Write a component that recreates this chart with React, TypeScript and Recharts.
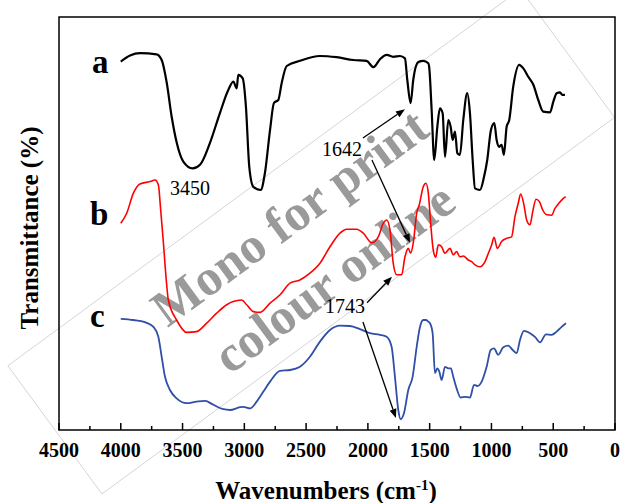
import React from "react";
import {
  LineChart,
  Line,
  XAxis,
  YAxis,
  ReferenceArea,
  ReferenceLine,
  ReferenceDot,
} from "recharts";

// spectrum a (black)
const waveA = [4000, 3925, 3845, 3710, 3669, 3628, 3588, 3547, 3494, 3418, 3359, 3278, 3197, 3130, 3089, 3062, 3049, 3013, 2987, 2960, 2927, 2868, 2833, 2792, 2760, 2725, 2698, 2657, 2550, 2388, 2253, 2118, 2010, 1956, 1902, 1848, 1795, 1740, 1700, 1681, 1654, 1633, 1592, 1552, 1511, 1504, 1484, 1463, 1438, 1417, 1395, 1376, 1349, 1330, 1314, 1295, 1276, 1255, 1228, 1196, 1174, 1152, 1133, 1093, 1060, 1034, 1004, 977, 958, 937, 918, 899, 877, 856, 824, 775, 742, 702, 661, 621, 581, 526, 499, 472, 445, 427, 405];
const transA = [92.1, 93.6, 94.2, 93.9, 92.5, 86.8, 78.3, 71.8, 67.1, 65.4, 66.3, 71.8, 79.3, 85, 87.1, 85.4, 88.8, 87.9, 80.8, 65.8, 60.8, 60, 64.3, 75, 81.8, 82.5, 86.7, 91, 92.3, 93.5, 93.2, 92.5, 92.3, 90.7, 92.7, 93.8, 93.3, 93.5, 92.9, 87.5, 81.7, 87.5, 92, 92.3, 91.7, 90.8, 80, 67.5, 75.8, 80.4, 79.2, 68.3, 77.5, 75.8, 72.5, 74.6, 69.2, 68.8, 77.5, 84.2, 79.2, 67.5, 60.4, 60, 63.3, 67.5, 75, 76.7, 72.5, 70.8, 71.3, 68.8, 75.8, 77.5, 85.8, 91.3, 90.4, 88.3, 86.3, 82.5, 79.6, 79.4, 82.1, 84.2, 84.4, 83.8, 83.8];

// spectrum b (red)
const waveB = [4000, 3952, 3898, 3845, 3764, 3723, 3696, 3677, 3655, 3634, 3615, 3548, 3467, 3386, 3305, 3224, 3143, 3090, 3021, 2981, 2927, 2873, 2792, 2711, 2630, 2550, 2469, 2388, 2307, 2226, 2172, 2091, 2037, 1969, 1916, 1875, 1848, 1821, 1795, 1767, 1727, 1700, 1673, 1654, 1633, 1605, 1584, 1552, 1530, 1511, 1492, 1471, 1451, 1430, 1403, 1376, 1336, 1309, 1282, 1255, 1228, 1188, 1160, 1133, 1093, 1052, 1025, 998, 979, 952, 918, 877, 837, 810, 783, 764, 737, 715, 688, 666, 639, 612, 585, 552, 513, 486, 459, 418, 399];
const transB = [51.7, 54.2, 59.2, 61.5, 62.1, 62.5, 61.3, 55, 46.8, 38.3, 32.5, 27.5, 24.4, 24.6, 26.7, 29.2, 31.3, 32.1, 32.5, 31.3, 29.6, 29.4, 31.7, 33.8, 36.7, 37.5, 39.2, 41.7, 45.8, 49.2, 50.2, 50.2, 49.2, 46.8, 48.3, 51.7, 52.5, 50, 41.7, 38.8, 38.8, 43.3, 45.4, 44.2, 46.7, 54.2, 56.3, 60.8, 61.7, 59.2, 51.7, 45, 43.2, 46.3, 45.8, 44.2, 45.4, 43.8, 44.6, 43.3, 43.5, 42.5, 42.1, 41.3, 40.8, 42.1, 44.2, 46.3, 48.2, 45.4, 47.1, 47.9, 48.3, 53.3, 56.7, 59, 56.3, 52.5, 51.3, 54.6, 57.7, 57.1, 55, 53.8, 53.7, 55.4, 56.5, 57.9, 58.3];

// spectrum c (blue)
const waveC = [4000, 3898, 3790, 3736, 3696, 3669, 3642, 3602, 3548, 3467, 3386, 3318, 3251, 3170, 3116, 3035, 3008, 2954, 2900, 2846, 2792, 2711, 2630, 2550, 2469, 2388, 2307, 2226, 2145, 2064, 1983, 1902, 1848, 1808, 1781, 1754, 1735, 1708, 1673, 1638, 1605, 1578, 1552, 1530, 1511, 1497, 1476, 1457, 1438, 1422, 1403, 1376, 1349, 1328, 1309, 1282, 1249, 1214, 1174, 1141, 1114, 1079, 1039, 1006, 979, 945, 904, 864, 828, 796, 769, 737, 688, 648, 607, 559, 513, 472, 432, 397];
const transC = [27.8, 27.5, 26.8, 25.8, 23.3, 18.3, 13.3, 10, 7.9, 6.7, 7.1, 7.3, 6.3, 5.2, 5, 5.7, 5.8, 5.4, 7.1, 9.6, 12.1, 14.8, 15, 15.8, 18.3, 22.1, 25, 26.1, 26, 25.2, 24.2, 23.8, 23.3, 20.8, 13.3, 5, 2.7, 4.2, 10, 13.3, 20.8, 25.8, 27.5, 27.5, 27.1, 26.7, 24.2, 14.2, 15.4, 14.6, 12.5, 15.8, 15.4, 15.4, 13.3, 10.4, 8.1, 8.3, 8.1, 11.3, 11, 12.1, 15.8, 20, 20.4, 18.8, 20.7, 21.1, 20, 19.2, 22.5, 24.8, 24.2, 23.3, 21.9, 23.9, 23.8, 24.6, 25.8, 26.7];

const xTicks = [4500, 4250, 4000, 3750, 3500, 3250, 3000, 2750, 2500, 2250, 2000, 1750, 1500, 1250, 1000, 750, 500, 250, 0];
const yMax = 103.25;

// curve names and peak labels, placed in data units
const curveLabels = [
  { text: "a", wn: 4233, t: 89.2 },
  { text: "b", wn: 4249, t: 51.2 },
  { text: "c", wn: 4249, t: 25.7 },
];
const peakLabels = [
  { text: "3450", wn: 3602, t: 58.7 },
  { text: "1642", wn: 2372, t: 68.5 },
  { text: "1743", wn: 2347, t: 29.2 },
];
const arrows = [
  { from: [2040, 73], to: [1700, 80.2] },
  { from: [1967, 67.5], to: [1659, 46.8] },
  { from: [2007, 31.8], to: [1805, 38.3] },
  { from: [2040, 27], to: [1773, 3] },
];

const toRows = (w: number[], t: number[]) => w.map((wn, i) => ({ wn, t: t[i] }));
const dataA = toRows(waveA, transA);
const dataB = toRows(waveB, transB);
const dataC = toRows(waveC, transC);

const SERIF = "'Liberation Serif', 'Times New Roman', serif";

const WaveTick = (props: any) => {
  const { x, y, payload } = props;
  const v = payload.value;
  const major = v % 500 === 0;
  return (
    <g>
      <line x1={x} x2={x} y1={y} y2={y - (major ? 7 : 4)} stroke="#000" strokeWidth={1.5} />
      {major && (
        <text x={x} y={y + 27} textAnchor="middle" fontFamily={SERIF} fontWeight="bold" fontSize={20} fill="#000">
          {v}
        </text>
      )}
    </g>
  );
};

const Arrow = (p: any) => {
  const { x1, y1, x2, y2 } = p;
  const ang = Math.atan2(y2 - y1, x2 - x1);
  const bx = x2 - 9 * Math.cos(ang);
  const by = y2 - 9 * Math.sin(ang);
  const px = -Math.sin(ang) * 3.5;
  const py = Math.cos(ang) * 3.5;
  return (
    <g>
      <line x1={x1} y1={y1} x2={bx} y2={by} stroke="#000" strokeWidth={1.3} />
      <polygon points={`${x2},${y2} ${bx + px},${by + py} ${bx - px},${by - py}`} fill="#000" />
    </g>
  );
};

const textShape = (text: string, size: number, bold: boolean) => (p: any) => (
  <text x={p.cx} y={p.cy} fontFamily={SERIF} fontSize={size} fontWeight={bold ? "bold" : "normal"} fill="#000">
    {text}
  </text>
);

const Watermark = () => (
  <svg width={620} height={503} style={{ position: "absolute", left: 0, top: 0 }}>
    <g transform="translate(311.5,242) rotate(-36.3)">
      <rect x={-318} y={-80} width={636} height={159} fill="none" stroke="#cfcfcf" strokeWidth={0.8} />
      <g fontFamily={SERIF} fontWeight="bold" fontSize={51} fill="#9a9a9a" textAnchor="middle">
        <text x={-3} y={-16}>Mono for print</text>
        <text x={-3} y={59}>colour online</text>
      </g>
    </g>
  </svg>
);

export default function App() {
  return (
    <div style={{ position: "absolute", left: 0, top: 0, width: 620, height: 503, background: "#fff" }}>
      <Watermark />
      <div style={{ position: "absolute", left: 0, top: 0 }}>
        <LineChart width={620} height={503} margin={{ top: 17, right: 5, bottom: 43, left: 59 }}>
          <XAxis
            type="number"
            dataKey="wn"
            domain={[0, 4500]}
            reversed
            ticks={xTicks}
            interval={0}
            height={30}
            axisLine={false}
            tickLine={false}
            tickSize={0}
            tickMargin={0}
            tick={<WaveTick />}
            allowDataOverflow
          />
          <YAxis type="number" domain={[0, yMax]} hide allowDataOverflow />
          <ReferenceArea x1={4500} x2={0} y1={0} y2={yMax} fill="none" stroke="#000" strokeWidth={1.5} ifOverflow="visible" />
          <Line data={dataA} dataKey="t" type="monotone" stroke="#000" strokeWidth={2.2} dot={false} isAnimationActive={false} />
          <Line data={dataB} dataKey="t" type="monotone" stroke="#ff0000" strokeWidth={1.6} dot={false} isAnimationActive={false} />
          <Line data={dataC} dataKey="t" type="monotone" stroke="#2f4fa8" strokeWidth={1.8} dot={false} isAnimationActive={false} />
          {arrows.map((a, i) => (
            <ReferenceLine
              key={"ar" + i}
              segment={[{ x: a.from[0], y: a.from[1] }, { x: a.to[0], y: a.to[1] }]}
              shape={Arrow}
              ifOverflow="visible"
            />
          ))}
          {curveLabels.map((l) => (
            <ReferenceDot key={l.text} x={l.wn} y={l.t} shape={textShape(l.text, 33, true)} ifOverflow="visible" />
          ))}
          {peakLabels.map((l) => (
            <ReferenceDot key={l.text} x={l.wn} y={l.t} shape={textShape(l.text, 20, false)} ifOverflow="visible" />
          ))}
        </LineChart>
      </div>
      <svg width={620} height={503} style={{ position: "absolute", left: 0, top: 0, pointerEvents: "none" }}>
        <text x={326} y={499} textAnchor="middle" fontFamily={SERIF} fontWeight="bold" fontSize={25} fill="#000">
          Wavenumbers (cm<tspan dy={-9} fontSize={15}>-1</tspan><tspan dy={9}>)</tspan>
        </text>
        <text transform="translate(38,228) rotate(-90)" textAnchor="middle" fontFamily={SERIF} fontWeight="bold" fontSize={25} fill="#000">
          Transmittance (%)
        </text>
      </svg>
    </div>
  );
}
